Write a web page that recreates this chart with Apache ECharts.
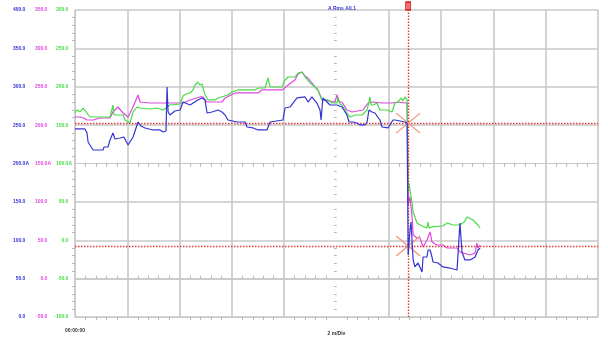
<!DOCTYPE html>
<html>
<head>
<meta charset="utf-8">
<script src="https://cdn.jsdelivr.net/npm/echarts@6/dist/echarts.min.js"></script>
<style>
  html, body { margin: 0; padding: 0; background: #ffffff; }
  #chart { width: 608px; height: 338px; }
</style>
</head>
<body>
<div id="chart"></div>
<script>
// RMS current trend, phase L1 — three channels, each on its own amplitude scale.
// Time in minutes from 00:00:00 (2 minutes per division).

const chartTitle = 'A Rms A/L1';

// Blue channel (scale 0 … 400 A)
const blueT = [0, 0.38, 0.46, 0.50, 0.69, 1.07, 1.11, 1.26, 1.34, 1.45, 1.53, 1.72, 1.87, 1.95, 2.03, 2.22, 2.41, 2.52, 2.68, 2.75,
  2.98, 3.25, 3.37, 3.48, 3.52, 3.56, 3.63, 3.82, 4.02, 4.13, 4.40, 4.70, 4.86, 4.97, 5.05, 5.24, 5.47, 5.62, 5.74, 5.85,
  6.20, 6.50, 6.58, 6.81, 7.00, 7.34, 7.46, 7.95, 8.03, 8.22, 8.49, 8.80, 8.91, 9.06, 9.25, 9.37, 9.41, 9.48, 9.64, 9.75,
  10.02, 10.21, 10.40, 10.48, 10.63, 10.78, 10.90, 11.09, 11.17, 11.24, 11.36, 11.47, 11.66, 11.74, 11.97, 12.16, 12.24, 12.43, 12.62, 12.70,
  12.74, 12.81, 12.85, 12.89, 12.93, 13.00, 13.12, 13.27, 13.31, 13.46, 13.50, 13.58, 13.65, 13.69, 13.88, 14.07, 14.34, 14.61, 14.68, 14.72,
  14.80, 14.91, 15.11, 15.30, 15.41, 15.49];
const blueA = [245.0, 245.0, 239.8, 228.0, 217.6, 217.6, 221.5, 221.5, 230.6, 239.8, 231.9, 233.2, 234.5, 229.3, 224.1, 234.5, 254.1, 248.9, 246.3, 247.6,
  243.7, 243.7, 241.1, 242.4, 299.7, 267.1, 263.2, 268.4, 269.7, 280.1, 276.2, 282.8, 285.4, 282.8, 265.8, 267.1, 269.7, 267.1, 263.2, 256.7,
  254.1, 254.1, 247.6, 246.3, 243.7, 243.7, 254.1, 256.7, 272.3, 273.6, 285.4, 286.7, 280.1, 286.7, 278.8, 269.7, 256.7, 285.4, 280.1, 276.2,
  276.2, 273.6, 263.2, 254.1, 254.1, 252.8, 250.2, 250.2, 254.1, 269.7, 267.1, 265.8, 256.7, 247.6, 246.3, 256.7, 256.7, 255.4, 254.1, 252.8,
  80.8, 113.4, 123.8, 123.8, 74.3, 65.2, 70.4, 58.6, 78.2, 78.2, 87.3, 87.3, 78.2, 71.7, 70.4, 65.2, 63.8, 61.2, 61.2, 122.5,
  84.7, 74.3, 74.3, 78.2, 87.3, 89.9];

// Magenta channel (scale -50 … 350 A)
const magentaT = [0, 0.19, 0.34, 0.46, 0.69, 0.96, 1.34, 1.45, 1.64, 1.84, 2.03, 2.22, 2.33, 2.41, 2.49, 2.87, 3.37, 4.13, 4.40, 4.78,
  4.89, 5.05, 5.62, 5.74, 6.12, 7.00, 7.15, 7.92, 8.15, 8.41, 8.53, 8.68, 8.80, 8.91, 9.18, 9.29, 9.45, 9.94, 10.02, 10.10,
  10.21, 10.40, 10.59, 11.01, 11.21, 11.40, 11.74, 12.12, 12.35, 12.62, 12.70, 12.74, 12.81, 12.89, 12.93, 13.08, 13.19, 13.31, 13.46, 13.58,
  13.65, 13.84, 14.07, 14.23, 14.61, 14.72, 15.11, 15.30, 15.37, 15.41, 15.49];
const magentaA = [210.6, 210.6, 209.3, 206.7, 206.7, 209.3, 209.3, 217.1, 223.6, 215.8, 210.6, 223.6, 232.8, 239.3, 230.1, 228.8, 228.8, 228.8, 232.8, 236.7,
  236.7, 230.1, 230.1, 235.4, 241.9, 241.9, 245.8, 245.8, 252.3, 258.8, 266.6, 269.2, 264.0, 261.4, 249.7, 245.8, 232.8, 230.1, 239.3, 230.1,
  230.1, 219.7, 217.1, 219.7, 228.8, 230.1, 228.8, 228.8, 230.1, 228.8, 228.8, 95.9, 106.4, 80.3, 56.8, 52.9, 52.9, 41.2, 50.3, 60.8,
  47.7, 43.8, 43.8, 39.9, 39.9, 34.7, 30.8, 33.4, 46.4, 39.9, 43.8];

// Green channel (scale -100 … 300 A)
const greenT = [0, 0.08, 0.19, 0.31, 0.46, 0.57, 0.84, 1.34, 1.41, 1.45, 1.49, 1.84, 1.91, 2.10, 2.22, 2.37, 2.49, 2.87, 3.14, 3.37,
  3.52, 3.63, 4.02, 4.13, 4.24, 4.40, 4.51, 4.59, 4.70, 4.78, 4.86, 4.97, 5.09, 5.35, 5.47, 5.85, 6.00, 6.23, 6.88, 7.00,
  7.27, 7.38, 7.46, 7.92, 8.03, 8.15, 8.41, 8.53, 8.68, 8.80, 8.99, 9.18, 9.29, 9.45, 9.67, 9.83, 10.02, 10.06, 10.13, 10.21,
  10.40, 10.52, 10.71, 10.98, 11.17, 11.28, 11.32, 11.40, 11.55, 11.66, 11.93, 12.12, 12.24, 12.35, 12.47, 12.54, 12.62, 12.70, 12.74, 12.77,
  12.89, 12.93, 13.08, 13.27, 13.46, 13.50, 13.54, 13.65, 14.07, 14.23, 14.46, 14.72, 14.88, 14.99, 15.22, 15.41, 15.49];
const greenA = [165.8, 169.7, 167.1, 172.3, 165.8, 160.6, 160.6, 160.6, 163.2, 176.2, 163.2, 163.2, 156.7, 152.8, 167.1, 173.6, 172.3, 171.0, 172.3, 169.7,
  173.6, 176.2, 177.5, 188.0, 190.6, 191.9, 195.8, 202.3, 206.2, 202.3, 203.6, 189.3, 182.8, 182.8, 185.4, 189.3, 193.2, 195.8, 195.8, 198.4,
  198.4, 211.4, 199.7, 199.7, 208.8, 212.7, 212.7, 217.9, 219.2, 212.7, 204.9, 199.7, 195.8, 182.8, 182.8, 178.8, 178.8, 186.7, 177.5, 176.2,
  165.8, 160.6, 163.2, 163.2, 169.7, 186.7, 176.2, 176.2, 178.8, 169.7, 169.7, 167.1, 178.8, 180.1, 185.4, 181.4, 186.7, 182.8, 65.5, 74.6,
  48.5, 36.8, 22.5, 18.6, 16.0, 23.8, 16.0, 17.3, 18.6, 22.5, 19.9, 19.9, 23.8, 30.3, 26.4, 19.9, 16.0];

// Cursor position and reference levels (blue scale)
const cursorTime = 12.74;
const refLevels = [252.5, 92.5];

// Axis ranges
const timeRange = [0, 20];
const blueRange = [0, 400];
const magentaRange = [-50, 350];
const greenRange = [-100, 300];
const midLabels = { blue: 200, magenta: 150, green: 100 };
const timeLabels = { 0: '00:00:00', 10: '2 m/Div' };

const BLUE = '#3434d4';
const MAGENTA = '#e046e0';
const GREEN = '#46dc46';
const GRID = '#c8c8c8';
const FONT = 'Liberation Sans';
const FS = 5;

const zip = (t, v) => t.map((x, i) => [x, v[i]]);

function labelFormatter(mid) {
  return v => (v === mid ? '{n|' + v.toFixed(1) + '}{a|A}' : '{n|' + v.toFixed(1) + '}{h|A}');
}
function labelRich(color) {
  const base = { fontSize: FS, fontWeight: 'bold', fontFamily: FONT, color: color };
  return { n: base, a: base, h: Object.assign({}, base, { color: 'rgba(0,0,0,0)' }) };
}

// grid lines at every division except the centre ones, which carry tick scales instead
const xSplitColors = [GRID, GRID, GRID, GRID, GRID, 'rgba(0,0,0,0)', GRID, GRID, GRID, GRID, GRID];
const ySplitColors = [GRID, GRID, GRID, GRID, 'rgba(0,0,0,0)', GRID, GRID, GRID, GRID];

function tickAxisX(extra) {
  return Object.assign({
    type: 'value', min: timeRange[0], max: timeRange[1], interval: 2,
    axisLabel: { show: false }, splitLine: { show: false },
    axisLine: { show: true, lineStyle: { color: GRID, width: 1 } },
    axisTick: { show: false },
    minorTick: { show: true, splitNumber: 5, length: 3, lineStyle: { color: '#b8b8b8', width: 1 } }
  }, extra);
}
function tickAxisY(extra) {
  return Object.assign({
    type: 'value', min: blueRange[0], max: blueRange[1], interval: 50, position: 'left',
    axisLabel: { show: false }, splitLine: { show: false },
    axisLine: { show: false },
    axisTick: { show: false },
    minorTick: { show: true, splitNumber: 5, length: 2.5, lineStyle: { color: '#b8b8b8', width: 1 } }
  }, extra);
}

const chart = echarts.init(document.getElementById('chart'), null, { renderer: 'canvas' });

chart.setOption({
  backgroundColor: '#ffffff',
  animation: false,
  title: {
    text: chartTitle, left: 337, top: 1, textAlign: 'center',
    textStyle: { fontSize: FS, fontWeight: 'bold', color: BLUE, fontFamily: FONT }
  },
  grid: { left: 75, right: 10, top: 10, bottom: 21 },
  xAxis: [
    {
      type: 'value', min: timeRange[0], max: timeRange[1], interval: 2, position: 'bottom',
      axisLine: { show: true, lineStyle: { color: GRID, width: 1 } },
      axisTick: { show: false },
      minorTick: { show: true, splitNumber: 5, length: 3, lineStyle: { color: '#b8b8b8', width: 1 } },
      splitLine: { show: true, lineStyle: { color: xSplitColors, width: 1.6 } },
      axisLabel: {
        show: true, margin: 11, fontSize: FS, fontWeight: 'bold', color: '#333333', fontFamily: FONT,
        formatter: v => (v === 10 ? '{d|' + timeLabels[v] + '}' : (timeLabels[v] !== undefined ? timeLabels[v] : '')),
        rich: { d: { fontSize: FS, fontWeight: 'bold', color: '#333333', fontFamily: FONT, padding: [3, 0, 0, 0] } }
      }
    },
    tickAxisX({ position: 'top', axisLine: { show: true, lineStyle: { color: GRID, width: 1.6 } } }),
    tickAxisX({ position: 'bottom', offset: -153.5, minorTick: { show: true, splitNumber: 5, length: 3, inside: true, lineStyle: { color: '#b8b8b8', width: 1 } } }),
    tickAxisX({ position: 'bottom', offset: -153.5, axisLine: { show: false }, axisTick: { show: false } })
  ],
  yAxis: [
    {
      type: 'value', min: blueRange[0], max: blueRange[1], interval: 50, position: 'left',
      axisLine: { show: true, lineStyle: { color: GRID, width: 1 } },
      axisTick: { show: false },
      minorTick: { show: true, splitNumber: 5, length: 3, lineStyle: { color: '#b8b8b8', width: 1 } },
      splitLine: { show: true, lineStyle: { color: ySplitColors, width: 1.6 } },
      axisLabel: { show: true, margin: 46, align: 'right', formatter: labelFormatter(midLabels.blue), rich: labelRich(BLUE) }
    },
    {
      type: 'value', min: magentaRange[0], max: magentaRange[1], interval: 50, position: 'left',
      axisLine: { show: false }, axisTick: { show: false }, splitLine: { show: false },
      axisLabel: { show: true, margin: 24, align: 'right', formatter: labelFormatter(midLabels.magenta), rich: labelRich(MAGENTA) }
    },
    {
      type: 'value', min: greenRange[0], max: greenRange[1], interval: 50, position: 'left',
      axisLine: { show: false }, axisTick: { show: false }, splitLine: { show: false },
      axisLabel: { show: true, margin: 3, align: 'right', formatter: labelFormatter(midLabels.green), rich: labelRich(GREEN) }
    },
    // tick scale along the centre vertical, drawn on both sides
    tickAxisY({ offset: -261.5 }),
    tickAxisY({ offset: -261.5, minorTick: { show: true, splitNumber: 5, length: 2.5, inside: true, lineStyle: { color: '#b8b8b8', width: 1 } } })
  ],
  series: [
    {
      name: 'Magenta', type: 'line', xAxisIndex: 0, yAxisIndex: 1, data: zip(magentaT, magentaA),
      symbol: 'none', lineStyle: { color: MAGENTA, width: 1.2 }, z: 3
    },
    {
      name: 'Green', type: 'line', xAxisIndex: 0, yAxisIndex: 2, data: zip(greenT, greenA),
      symbol: 'none', lineStyle: { color: GREEN, width: 1.2 }, z: 4
    },
    {
      name: 'Blue', type: 'line', xAxisIndex: 0, yAxisIndex: 0, data: zip(blueT, blueA),
      symbol: 'none', lineStyle: { color: BLUE, width: 1.2 }, z: 5,
      markLine: {
        silent: true, symbol: 'none', animation: false,
        label: { show: false },
        lineStyle: { color: '#e23a3a', type: [1.5, 1.5], width: 1.4 },
        data: [{ yAxis: refLevels[0] }, { yAxis: refLevels[1] }, { xAxis: cursorTime }]
      },
      markPoint: {
        silent: true, animation: false, label: { show: false },
        data: [
          {
            coord: [cursorTime, refLevels[0]], symbol: 'path://M0,0L24,20M24,0L0,20', symbolSize: [24, 20],
            itemStyle: { color: 'none', borderColor: '#f19a7e', borderWidth: 1.2 }
          },
          {
            coord: [cursorTime, refLevels[1]], symbol: 'path://M0,0L24,20M24,0L0,20', symbolSize: [24, 20],
            itemStyle: { color: 'none', borderColor: '#f19a7e', borderWidth: 1.2 }
          },
          {
            coord: [cursorTime, blueRange[1]], symbol: 'rect', symbolSize: [5, 8], symbolOffset: [0, -4],
            itemStyle: { color: '#f37070', borderColor: '#d02020', borderWidth: 1 }
          }
        ]
      }
    }
  ]
});
</script>
</body>
</html>
